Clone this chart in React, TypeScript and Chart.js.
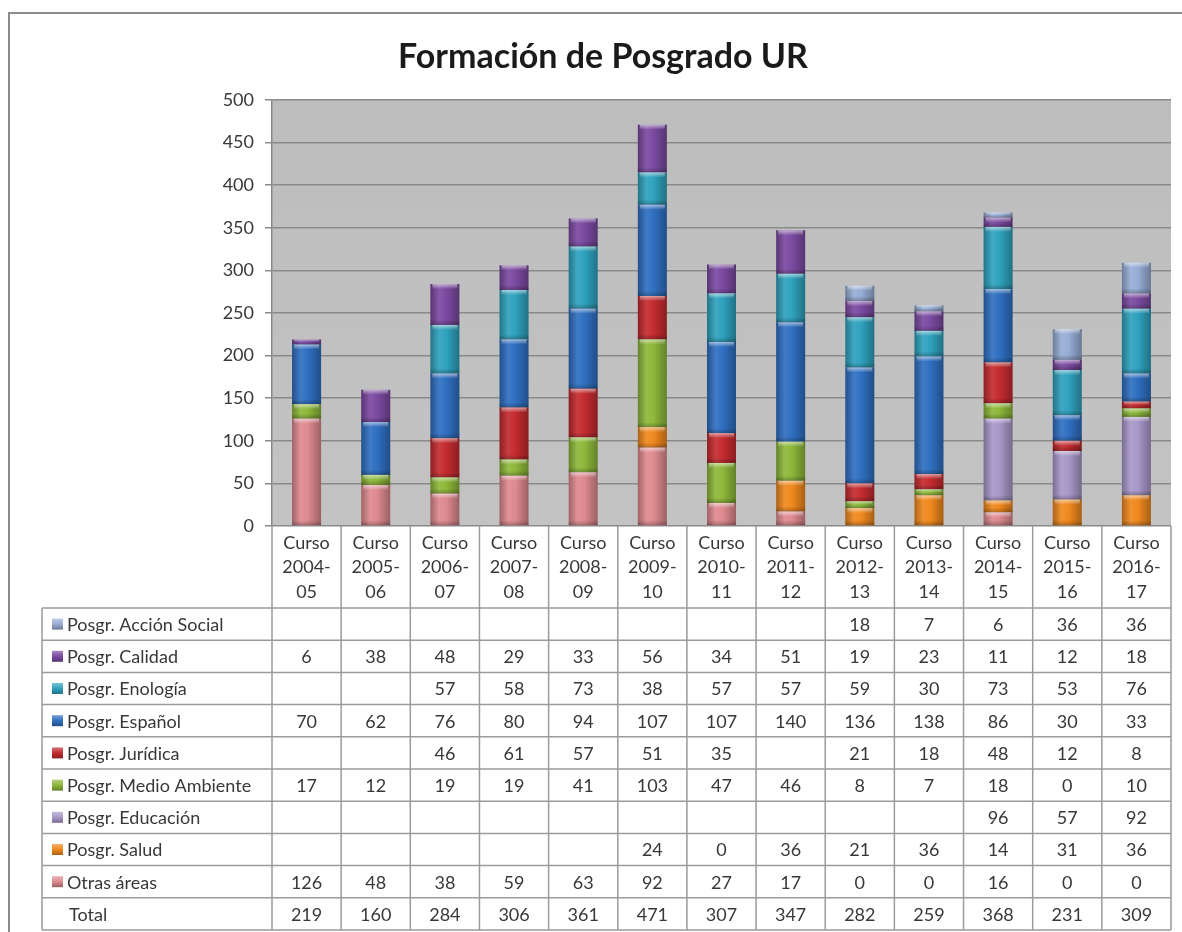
import { useEffect, useRef } from 'react';
import { Chart, registerables } from 'chart.js';

Chart.register(...registerables);

const FONT = 'Lato, "Noto Sans", sans-serif';

const titleText = 'Formación de Posgrado UR';
const categories = ['2004-05', '2005-06', '2006-07', '2007-08', '2008-09', '2009-10', '2010-11', '2011-12', '2012-13', '2013-14', '2014-15', '2015-16', '2016-17'];
const yTicks = [0, 50, 100, 150, 200, 250, 300, 350, 400, 450, 500];

const accionSocial = [null, null, null, null, null, null, null, null, 18, 7, 6, 36, 36];
const calidad = [6, 38, 48, 29, 33, 56, 34, 51, 19, 23, 11, 12, 18];
const enologia = [null, null, 57, 58, 73, 38, 57, 57, 59, 30, 73, 53, 76];
const espanol = [70, 62, 76, 80, 94, 107, 107, 140, 136, 138, 86, 30, 33];
const juridica = [null, null, 46, 61, 57, 51, 35, null, 21, 18, 48, 12, 8];
const medioAmbiente = [17, 12, 19, 19, 41, 103, 47, 46, 8, 7, 18, 0, 10];
const educacion = [null, null, null, null, null, null, null, null, null, null, 96, 57, 92];
const salud = [null, null, null, null, null, 24, 0, 36, 21, 36, 14, 31, 36];
const otrasAreas = [126, 48, 38, 59, 63, 92, 27, 17, 0, 0, 16, 0, 0];

// Stack order: bottom first
const seriesNames = ['Otras áreas', 'Posgr. Salud', 'Posgr. Educación', 'Posgr. Medio Ambiente', 'Posgr. Jurídica', 'Posgr. Español', 'Posgr. Enología', 'Posgr. Calidad', 'Posgr. Acción Social'];
const seriesValues = [otrasAreas, salud, educacion, medioAmbiente, juridica, espanol, enologia, calidad, accionSocial];
const seriesColors = ['#DE8A8F', '#F0891E', '#A898C9', '#8DB83A', '#C42B2F', '#2F6FC1', '#2FA2BE', '#7B4AA1', '#97ADD6'];

function shade(hex: string, f: number): string {
  const n = parseInt(hex.slice(1), 16);
  let r = (n >> 16) & 255, g = (n >> 8) & 255, b = n & 255;
  if (f < 1) { r *= f; g *= f; b *= f; }
  else { const t = f - 1; r += (255 - r) * t; g += (255 - g) * t; b += (255 - b) * t; }
  return `rgb(${Math.round(r)},${Math.round(g)},${Math.round(b)})`;
}

const BAR_FRACTION = 0.42;
const TEXT_SIZE = 18;
const TEXT_COLOR = '#383838';

export default function App() {
  const ref = useRef<HTMLCanvasElement>(null);

  useEffect(() => {
    const canvas = ref.current!;
    const decor = {
      id: 'decor',
      beforeDraw(chart: any) {
        const { ctx, chartArea } = chart;
        ctx.save();
        ctx.fillStyle = '#ffffff';
        ctx.fillRect(0, 0, chart.width, chart.height);
        // outer frame
        ctx.strokeStyle = '#8c8c8c';
        ctx.lineWidth = 2;
        ctx.beginPath();
        ctx.moveTo(9, chart.height);
        ctx.lineTo(9, 13);
        ctx.lineTo(chart.width, 13);
        ctx.stroke();
        // plot background
        const g = ctx.createLinearGradient(0, chartArea.top, 0, chartArea.bottom);
        g.addColorStop(0, '#bdbdbd');
        g.addColorStop(1, '#c3c3c3');
        ctx.fillStyle = g;
        ctx.fillRect(chartArea.left, chartArea.top, chartArea.right - chartArea.left, chartArea.bottom - chartArea.top);
        ctx.restore();
      },
      afterDatasetsDraw(chart: any) {
        const { ctx } = chart;
        ctx.save();
        chart.data.datasets.forEach((ds: any, di: number) => {
          const meta = chart.getDatasetMeta(di);
          meta.data.forEach((el: any, i: number) => {
            const v = ds.data[i];
            if (v === null || v === 0) return;
            const top = Math.min(el.y, el.base);
            const h = Math.abs(el.base - el.y);
            const left = el.x - el.width / 2;
            const hh = Math.min(5, h / 2);
            const g = ctx.createLinearGradient(0, top, 0, top + hh);
            g.addColorStop(0, 'rgba(255,255,255,0.55)');
            g.addColorStop(1, 'rgba(255,255,255,0)');
            ctx.fillStyle = g;
            ctx.fillRect(left + 2, top, el.width - 4, hh);
            const g2 = ctx.createLinearGradient(0, top + h - hh, 0, top + h);
            g2.addColorStop(0, 'rgba(0,0,0,0)');
            g2.addColorStop(1, 'rgba(0,0,0,0.25)');
            ctx.fillStyle = g2;
            ctx.fillRect(left, top + h - hh, el.width, hh);
          });
        });
        ctx.restore();
      },
      afterDraw(chart: any) {
        const { ctx, chartArea } = chart;
        ctx.save();
        // title
        ctx.fillStyle = '#1a1a1a';
        ctx.font = `bold 34px ${FONT}`;
        ctx.textAlign = 'center';
        ctx.textBaseline = 'middle';
        ctx.fillText(titleText, 603, 57);

        // data table
        const n = categories.length;
        const left = chartArea.left;
        const right = chartArea.right;
        const colW = (right - left) / n;
        const headTop = chartArea.bottom;
        const headBottom = 608;
        const tableBottom = 930;
        const legendLeft = 42;
        const rows = seriesNames.length + 1;
        const rowH = (tableBottom - headBottom) / rows;

        ctx.strokeStyle = '#9b9b9b';
        ctx.lineWidth = 1.5;
        ctx.beginPath();
        for (let i = 0; i <= n; i++) {
          const x = left + i * colW;
          ctx.moveTo(x, headTop);
          ctx.lineTo(x, tableBottom);
        }
        ctx.moveTo(legendLeft, headBottom);
        ctx.lineTo(legendLeft, tableBottom);
        for (let k = 0; k <= rows; k++) {
          const y = headBottom + k * rowH;
          ctx.moveTo(legendLeft, y);
          ctx.lineTo(right, y);
        }
        ctx.stroke();

        ctx.fillStyle = TEXT_COLOR;
        ctx.font = `${TEXT_SIZE}px ${FONT}`;
        ctx.textAlign = 'center';
        categories.forEach((c, i) => {
          const cx = left + (i + 0.5) * colW;
          const [a, b] = c.split('-');
          ctx.fillText('Curso', cx, 543);
          ctx.fillText(a + '-', cx, 567);
          ctx.fillText(b, cx, 592);
        });

        const order = seriesNames.map((_, i) => seriesNames.length - 1 - i);
        order.forEach((si, r) => {
          const cy = headBottom + (r + 0.5) * rowH;
          const col = seriesColors[si];
          const mg = ctx.createLinearGradient(52, cy - 5.5, 52, cy + 5.5);
          mg.addColorStop(0, shade(col, 1.35));
          mg.addColorStop(0.5, col);
          mg.addColorStop(1, shade(col, 0.7));
          ctx.fillStyle = mg;
          ctx.fillRect(52, cy - 5.5, 11, 11);
          ctx.fillStyle = TEXT_COLOR;
          ctx.textAlign = 'left';
          ctx.fillText(seriesNames[si], 67, cy + 1);
          ctx.textAlign = 'center';
          seriesValues[si].forEach((v, i) => {
            if (v === null) return;
            ctx.fillText(String(v), left + (i + 0.5) * colW, cy + 1);
          });
        });
        const cyT = headBottom + (rows - 0.5) * rowH;
        ctx.textAlign = 'left';
        ctx.fillText('Total', 69, cyT + 1);
        ctx.textAlign = 'center';
        categories.forEach((_, i) => {
          let s = 0;
          seriesValues.forEach((arr) => { s += arr[i] ?? 0; });
          ctx.fillText(String(s), left + (i + 0.5) * colW, cyT + 1);
        });
        ctx.restore();
      },
    };

    const chart = new Chart(canvas, {
      type: 'bar',
      data: {
        labels: categories,
        datasets: seriesNames.map((name, si) => ({
          label: name,
          data: seriesValues[si],
          backgroundColor: (c: any) => {
            const base = seriesColors[si];
            const ch = c.chart;
            const xs = ch.scales?.x;
            if (!ch.chartArea || !xs || c.dataIndex === undefined) return base;
            const x = xs.getPixelForValue(c.dataIndex);
            const w = (xs.width / categories.length) * BAR_FRACTION;
            if (!isFinite(x) || w <= 0) return base;
            const g = ch.ctx.createLinearGradient(x - w / 2, 0, x + w / 2, 0);
            g.addColorStop(0, shade(base, 0.72));
            g.addColorStop(0.3, shade(base, 1.08));
            g.addColorStop(0.55, base);
            g.addColorStop(1, shade(base, 0.7));
            return g;
          },
          borderWidth: 0,
          barPercentage: 1,
          categoryPercentage: BAR_FRACTION,
        })),
      },
      options: {
        animation: false,
        responsive: true,
        maintainAspectRatio: false,
        layout: { padding: { left: 0, top: 100, right: 11, bottom: 406 } },
        plugins: {
          legend: { display: false },
          tooltip: { enabled: false },
          title: { display: false },
        },
        scales: {
          x: {
            stacked: true,
            display: false,
            grid: { display: false },
          },
          y: {
            stacked: true,
            min: 0,
            max: 500,
            afterBuildTicks: (s: any) => { s.ticks = yTicks.map((v) => ({ value: v })); },
            afterFit: (s: any) => { s.width = 272; },
            ticks: {
              color: TEXT_COLOR,
              font: { family: FONT, size: TEXT_SIZE },
              padding: 11,
            },
            grid: {
              color: '#8a8a8a',
              lineWidth: 1.5,
              tickLength: 7,
              drawTicks: true,
              tickColor: '#8a8a8a',
            },
            border: { display: true, color: '#8a8a8a', width: 1.5 },
          },
        },
      },
      plugins: [decor],
    } as any);
    return () => chart.destroy();
  }, []);

  return (
    <div style={{ position: 'fixed', left: 0, top: 0, width: 1182, height: 932, background: '#fff' }}>
      <canvas ref={ref} />
    </div>
  );
}
